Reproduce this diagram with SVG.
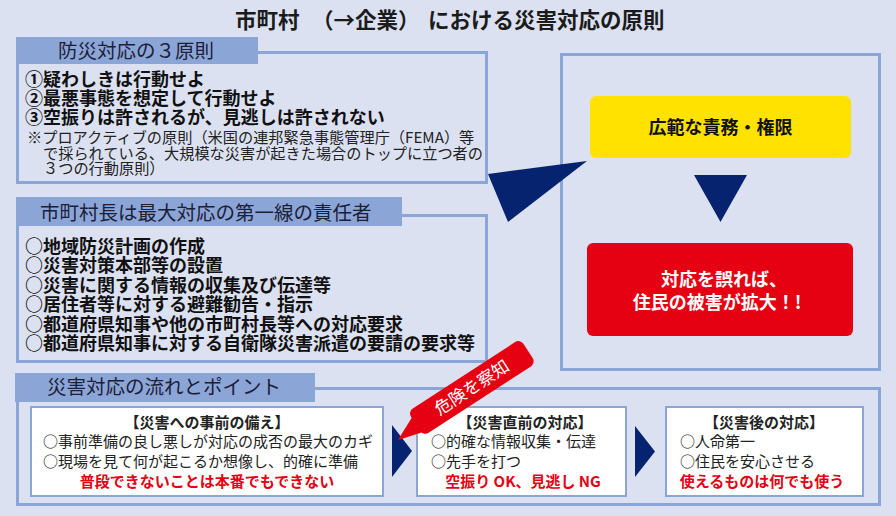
<svg xmlns="http://www.w3.org/2000/svg" width="896" height="516" viewBox="0 0 896 516">
<style>
text{font-family:"Noto Sans CJK JP","Noto Sans CJK SC",sans-serif;}
.bg{fill:#dce1f1;}
.frame{fill:none;stroke:#8ca5d7;stroke-width:3;}
.tab{fill:#8ca5d7;}
.tabt{font-size:19.5px;fill:#1b2038;}
.title{font-size:21.5px;font-weight:bold;fill:#1b1b1b;}
.b18{font-size:18px;font-weight:bold;fill:#111;}
.note{font-size:15.2px;fill:#222;}
.inner{fill:#fff;stroke:#8ca5d7;stroke-width:2;}
.hd{font-size:15px;font-weight:bold;fill:#222;text-anchor:middle;}
.ln{font-size:15px;fill:#222;}
.red{font-size:15px;font-weight:bold;fill:#e50012;text-anchor:middle;}
.navy{fill:#06236f;}
</style>
<rect class="bg" x="0" y="0" width="896" height="516"/>
<text class="title" y="27.5"><tspan x="235">市町村</tspan><tspan x="312">（→企業）</tspan><tspan x="428">における災害対応の原則</tspan></text>

<g id="principles">
<rect class="frame" x="17.5" y="52.5" width="469" height="130"/>
<rect class="tab" x="16" y="37" width="242" height="27"/>
<text class="tabt" x="58" y="58">防災対応の３原則</text>
<text class="b18" x="25" y="86">①疑わしきは行動せよ</text>
<text class="b18" x="25" y="105">②最悪事態を想定して行動せよ</text>
<text class="b18" x="25" y="124">③空振りは許されるが、見逃しは許されない</text>
<text class="note" x="27" y="143">※プロアクティブの原則（米国の連邦緊急事態管理庁（FEMA）等</text>
<text class="note" x="43" y="158.5">で採られている、大規模な災害が起きた場合のトップに立つ者の</text>
<text class="note" x="43" y="174">３つの行動原則）</text>
</g>

<g id="mayor">
<rect class="frame" x="17.5" y="215.5" width="469" height="146"/>
<rect class="tab" x="16" y="197" width="386" height="29"/>
<text class="tabt" x="40" y="220">市町村長は最大対応の第一線の責任者</text>
<text class="b18" x="25" y="252.5">○地域防災計画の作成</text>
<text class="b18" x="25" y="272">○災害対策本部等の設置</text>
<text class="b18" x="25" y="291.6">○災害に関する情報の収集及び伝達等</text>
<text class="b18" x="25" y="311.2">○居住者等に対する避難勧告・指示</text>
<text class="b18" x="25" y="330.7">○都道府県知事や他の市町村長等への対応要求</text>
<text class="b18" x="25" y="350.3">○都道府県知事に対する自衛隊災害派遣の要請の要求等</text>
</g>

<g id="right-panel">
<rect class="frame" x="561.5" y="54.5" width="318" height="315"/>
</g>
<g id="authority">
<rect x="590" y="96" width="261" height="62" rx="6" fill="#ffe200"/>
<text x="720.5" y="134" text-anchor="middle" style="font-size:18px;font-weight:bold;fill:#111;">広範な責務・権限</text>
</g>
<g id="damage">
<rect x="587" y="243" width="266" height="93" rx="6" fill="#e50012"/>
<text x="724" y="285.5" text-anchor="middle" style="font-size:18px;font-weight:bold;fill:#fff;">対応を誤れば、</text>
<text x="717" y="308.5" text-anchor="middle" style="font-size:18px;font-weight:bold;fill:#fff;">住民の被害が拡大！!</text>
</g>

<g id="flow">
<rect class="frame" x="17.5" y="388.5" width="862" height="116"/>
<rect class="tab" x="15" y="373" width="300" height="29"/>
<text class="tabt" x="47" y="394">災害対応の流れとポイント</text>
</g>

<g id="before">
<rect class="inner" x="31" y="407" width="352" height="89"/>
<text class="hd" x="207" y="427.5">【災害への事前の備え】</text>
<text class="ln" x="43" y="446.5">○事前準備の良し悪しが対応の成否の最大のカギ</text>
<text class="ln" x="43" y="466.7">○現場を見て何が起こるか想像し、的確に準備</text>
<text class="red" x="207" y="487.4">普段できないことは本番でもできない</text>
</g>

<g id="just-before">
<rect class="inner" x="417" y="407" width="209" height="89"/>
<text class="hd" x="525" y="427.5">【災害直前の対応】</text>
<text class="ln" x="431" y="446.5">○的確な情報収集・伝達</text>
<text class="ln" x="431" y="466.7">○先手を打つ</text>
<text class="red" x="523" y="487.4">空振り OK、見逃し NG</text>
</g>

<g id="after">
<rect class="inner" x="666" y="407" width="197" height="89"/>
<text class="hd" x="764" y="427.5">【災害後の対応】</text>
<text class="ln" x="680" y="446.5">○人命第一</text>
<text class="ln" x="680" y="466.7">○住民を安心させる</text>
<text class="red" x="762" y="487.4">使えるものは何でも使う</text>
</g>

<g id="connectors">
<polygon class="navy" points="488,174 587,161 508,222"/>
<polygon class="navy" points="694,175 747,175 720.5,222"/>
<polygon class="navy" points="392,425 412,451 392,477"/>
<polygon class="navy" points="635,426 655,451.5 635,477"/>
</g>

<g id="callout" transform="translate(471,388) rotate(-33)">
<rect x="-66" y="-14.5" width="134" height="29" rx="6" fill="#e50012"/>
<polygon points="-60,-10 -90,4 -50,14.5" fill="#e50012"/>
<text x="1" y="6" text-anchor="middle" style="font-size:17px;fill:#fff;">危険を察知</text>
</g>
</svg>
